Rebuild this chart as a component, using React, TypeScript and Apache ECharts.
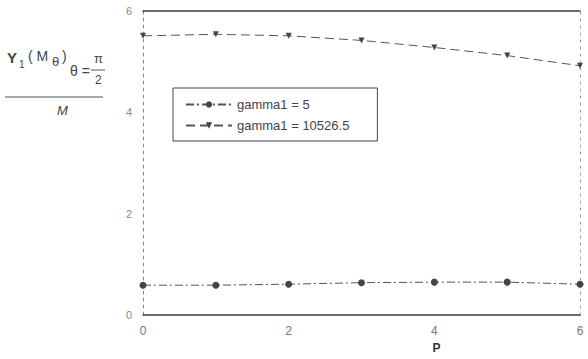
import React, { useEffect, useRef } from "react";
import * as echarts from "echarts";

const pValues = [0, 1, 2, 3, 4, 5, 6];
const gamma5 = [0.59, 0.59, 0.61, 0.64, 0.65, 0.65, 0.61];
const gammaBig = [5.51, 5.54, 5.51, 5.42, 5.28, 5.12, 4.92];
const xTicks = [0, 2, 4, 6];
const yTicks = [0, 2, 4, 6];
const seriesNames = ["gamma1 = 5", "gamma1 = 10526.5"];

export default function App() {
  const ref = useRef<HTMLDivElement>(null);
  useEffect(() => {
    document.body.style.margin = "0";
    const chart = echarts.init(ref.current!, null, { renderer: "svg" });
    const font = "Liberation Sans, Arial, sans-serif";
    const lineCol = "#3a3a3a";
    chart.setOption({
      animation: false,
      backgroundColor: "#ffffff",
      textStyle: { fontFamily: font },
      grid: { left: 143, right: 8, top: 11, bottom: 42 },
      xAxis: [
        {
          type: "value",
          min: 0,
          max: 6,
          interval: 2,
          name: "P",
          nameLocation: "middle",
          nameGap: 26,
          nameTextStyle: { fontSize: 12, fontWeight: "bold", color: "#333", padding: [0, 0, 0, 150] },
          axisLine: { show: true, onZero: false, lineStyle: { color: lineCol, width: 1.5 } },
          axisTick: { show: false },
          splitLine: { show: false },
          axisLabel: {
            color: "#777",
            fontSize: 12,
            margin: 10,
            formatter: (v: number) => (xTicks.includes(v) ? String(v) : ""),
          },
        },
        {
          type: "value",
          position: "top",
          min: 0,
          max: 6,
          axisLine: { show: true, onZero: false, lineStyle: { color: lineCol, width: 1.5 } },
          axisTick: { show: false },
          axisLabel: { show: false },
          splitLine: { show: false },
        },
      ],
      yAxis: [
        {
          type: "value",
          min: 0,
          max: 6,
          interval: 2,
          axisLine: { show: true, onZero: false, lineStyle: { color: "#888", width: 1, type: [3, 4] } },
          axisTick: { show: false },
          splitLine: { show: false },
          axisLabel: {
            color: "#888",
            fontSize: 11,
            margin: 11,
            formatter: (v: number) => (yTicks.includes(v) ? String(v) : ""),
          },
        },
        {
          type: "value",
          position: "right",
          min: 0,
          max: 6,
          axisLine: { show: true, onZero: false, lineStyle: { color: "#999", width: 1, type: [2, 5] } },
          axisTick: { show: false },
          axisLabel: { show: false },
          splitLine: { show: false },
        },
      ],
      legend: {
        left: 173,
        top: 88,
        orient: "vertical",
        itemWidth: 46,
        itemHeight: 8,
        itemGap: 8,
        padding: [10, 28, 9, 12],
        borderColor: "#444",
        borderWidth: 1,
        textStyle: { color: "#444", fontSize: 13, fontFamily: font },
        data: seriesNames,
      },
      series: [
        {
          name: seriesNames[0],
          type: "line",
          data: pValues.map((p, i) => [p, gamma5[i]]),
          symbol: "circle",
          symbolSize: 7,
          itemStyle: { color: "#444" },
          lineStyle: { color: "#555", width: 1, type: [8, 3, 2, 3] },
        },
        {
          name: seriesNames[1],
          type: "line",
          data: pValues.map((p, i) => [p, gammaBig[i]]),
          symbol: "triangle",
          symbolRotate: 180,
          symbolSize: 6,
          itemStyle: { color: "#444" },
          lineStyle: { color: "#555", width: 1, type: [9, 5] },
        },
      ],
      graphic: [
        { type: "text", left: 7, top: 50, style: { text: "Υ", fontSize: 15, fontWeight: "bold", fill: "#444", fontFamily: font } },
        { type: "text", left: 19, top: 59, style: { text: "1", fontSize: 10, fill: "#444", fontFamily: font } },
        { type: "text", left: 28, top: 49, style: { text: "( M", fontSize: 14, fill: "#444", fontFamily: font } },
        { type: "text", left: 52, top: 55, style: { text: "θ", fontSize: 13, fill: "#444", fontFamily: font } },
        { type: "text", left: 62, top: 49, style: { text: ")", fontSize: 14, fill: "#444", fontFamily: font } },
        { type: "text", left: 70, top: 64, style: { text: "θ =", fontSize: 14, fill: "#444", fontFamily: font } },
        { type: "text", left: 94, top: 52, style: { text: "π", fontSize: 13, fill: "#444", fontFamily: font } },
        { type: "line", shape: { x1: 91, y1: 70, x2: 105, y2: 70 }, style: { stroke: "#555", lineWidth: 1 } },
        { type: "text", left: 95, top: 74, style: { text: "2", fontSize: 12, fill: "#444", fontFamily: font } },
        { type: "line", shape: { x1: 5, y1: 97, x2: 103, y2: 97 }, style: { stroke: "#555", lineWidth: 1 } },
        { type: "text", left: 57, top: 104, style: { text: "M", fontSize: 13, fontStyle: "italic", fill: "#444", fontFamily: font } },
      ],
    });
    return () => chart.dispose();
  }, []);
  return <div ref={ref} style={{ width: 588, height: 359 }} />;
}
